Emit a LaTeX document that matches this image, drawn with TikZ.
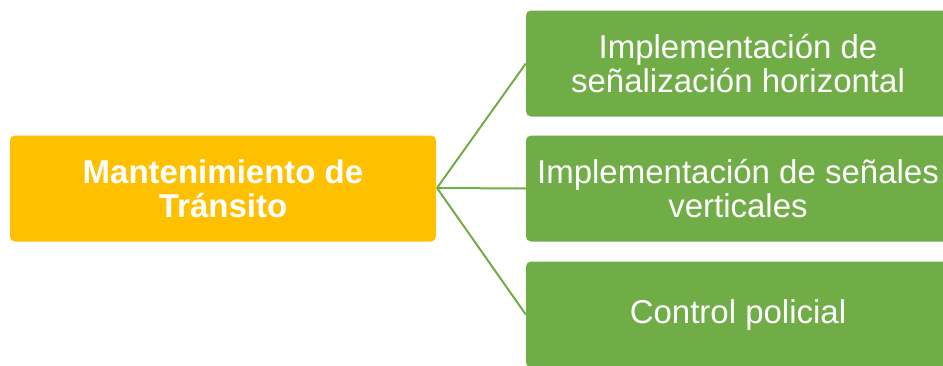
\documentclass[tikz,border=0pt]{standalone}
\usepackage{fontspec}
\setmainfont{Liberation Sans}
\definecolor{orangebox}{HTML}{FFC000}
\definecolor{greenbox}{HTML}{70AD47}
\begin{document}
\begin{tikzpicture}[x=1pt,y=1pt,
  mainbox/.style={fill=orangebox, rounded corners=5pt, minimum width=426pt, minimum height=106pt, inner sep=0pt,
    text=white, font=\fontsize{33}{34}\selectfont\bfseries, align=center},
  leafbox/.style={fill=greenbox, rounded corners=5pt, minimum width=424pt, minimum height=106pt, inner sep=0pt,
    text=white, font=\fontsize{33}{34}\selectfont, align=center},
  link/.style={draw=greenbox, line width=2pt}]
\useasboundingbox (0,0) rectangle (943,-365);
\clip (0,0) rectangle (943,-365);
\node[mainbox] (root) at (223,-188.5) {Mantenimiento de\\Tránsito};
\node[leafbox] (a) at (738,-63.5) {Implementación de\\señalización horizontal};
\node[leafbox] (b) at (738,-188.5) {Implementación de señales\\verticales};
\node[leafbox] (c) at (738,-314.5) {Control policial};
\coordinate (hub) at (437,-188);
\draw[link] (hub) -- (a.west);
\draw[link] (hub) -- (b.west);
\draw[link] (hub) -- (c.west);
\end{tikzpicture}
\end{document}
